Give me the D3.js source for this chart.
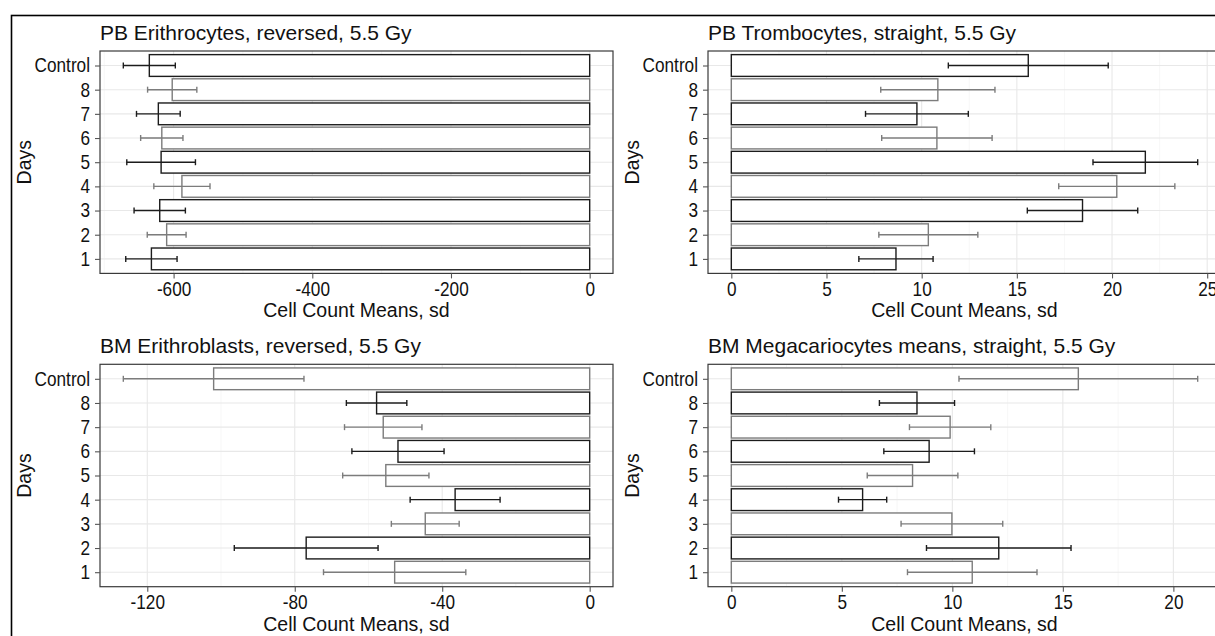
<!DOCTYPE html>
<html lang="en">
<head>
<meta charset="UTF-8">
<title>Cell Count Means</title>
<script src="https://cdn.jsdelivr.net/npm/d3@7"></script>
<style>
  body { margin: 0; background: #fff; }
  text { font-family: "Liberation Sans", Arial, sans-serif; fill: #111; }
</style>
</head>
<body>
<script>
// categories, top to bottom
const days = ["Control", "8", "7", "6", "5", "4", "3", "2", "1"];

// PB Erithrocytes (reversed)
const pbEryMean = [-635, -602, -622, -617, -618, -588, -620, -610, -632];
const pbErySd = [37.5, 35.5, 31.5, 30.5, 49.5, 40.5, 37, 28, 37];
const pbEryTicks = [-600, -400, -200, 0];

// PB Trombocytes (straight)
const pbTromMean = [15.6, 10.85, 9.75, 10.8, 21.75, 20.25, 18.45, 10.35, 8.65];
const pbTromSd = [4.2, 3.0, 2.7, 2.9, 2.75, 3.05, 2.9, 2.6, 1.95];
const pbTromTicks = [0, 5, 10, 15, 20, 25];

// BM Erithroblasts (reversed)
const bmEryMean = [-102, -57.8, -56, -52, -55.3, -36.5, -44.6, -76.9, -52.9];
const bmErySd = [24.5, 8.2, 10.5, 12.5, 11.7, 12.2, 9.2, 19.5, 19.3];
const bmEryTicks = [-120, -80, -40, 0];

// BM Megacariocytes (straight)
const bmMegaMean = [15.7, 8.4, 9.9, 8.95, 8.2, 5.94, 9.98, 12.1, 10.9];
const bmMegaSd = [5.4, 1.7, 1.84, 2.05, 2.05, 1.09, 2.3, 3.27, 2.93];
const bmMegaTicks = [0, 5, 10, 15, 20];

// outline group of each bar
const topTone = ["a", "b", "a", "b", "a", "b", "a", "b", "a"];
const bottomTone = ["b", "a", "b", "a", "b", "a", "b", "a", "b"];
const toneColor = { a: "#1c1c1c", b: "#7c7c7c" };

const W = 1215, H = 636;
const panelW = 513, panelH = 222.4;

const svg = d3.select("body").append("svg")
  .attr("width", W)
  .attr("height", H);

svg.append("rect").attr("width", W).attr("height", H).attr("fill", "#fff");

// outer frame (cut by the picture edge)
svg.append("rect")
  .attr("x", 11.5).attr("y", 15.5)
  .attr("width", 1400).attr("height", 800)
  .attr("fill", "none")
  .attr("stroke", "#000")
  .attr("stroke-width", 1.6);

const panels = [
  { title: "PB Erithrocytes, reversed, 5.5 Gy", mean: pbEryMean, sd: pbErySd, ticks: pbEryTicks, tone: topTone, left: 100, top: 51 },
  { title: "PB Trombocytes, straight, 5.5 Gy", mean: pbTromMean, sd: pbTromSd, ticks: pbTromTicks, tone: topTone, left: 708, top: 51 },
  { title: "BM Erithroblasts, reversed, 5.5 Gy", mean: bmEryMean, sd: bmErySd, ticks: bmEryTicks, tone: bottomTone, left: 100, top: 364.3 },
  { title: "BM Megacariocytes means, straight, 5.5 Gy", mean: bmMegaMean, sd: bmMegaSd, ticks: bmMegaTicks, tone: bottomTone, left: 708, top: 364.3 }
];

const tickScale = 0.86;

panels.forEach(p => {
  const g = svg.append("g").attr("transform", `translate(${p.left},${p.top})`);

  const lo = p.mean.map((m, i) => m - p.sd[i]);
  const hi = p.mean.map((m, i) => m + p.sd[i]);
  let dmin = Math.min(0, d3.min(lo)), dmax = Math.max(0, d3.max(hi));
  const pad = (dmax - dmin) * 0.05;

  const x = d3.scaleLinear().domain([dmin - pad, dmax + pad]).range([0, panelW]);
  const y = d3.scalePoint().domain(days).range([0, panelH]).padding(0.6);
  const bw = y.step() * 0.9;

  // minor breaks
  const step = p.ticks[1] - p.ticks[0];
  const minor = [];
  for (let v = p.ticks[0] - step / 2; v <= p.ticks[p.ticks.length - 1] + step / 2; v += step) {
    if (v >= x.domain()[0] && v <= x.domain()[1]) minor.push(v);
  }

  g.selectAll(".minor").data(minor).join("line")
    .attr("x1", d => x(d)).attr("x2", d => x(d))
    .attr("y1", 0).attr("y2", panelH)
    .attr("stroke", "#f3f3f3").attr("stroke-width", 0.7);

  g.selectAll(".vgrid").data(p.ticks).join("line")
    .attr("x1", d => x(d)).attr("x2", d => x(d))
    .attr("y1", 0).attr("y2", panelH)
    .attr("stroke", "#e8e8e8").attr("stroke-width", 1.1);

  g.selectAll(".hgrid").data(days).join("line")
    .attr("x1", 0).attr("x2", panelW)
    .attr("y1", d => y(d)).attr("y2", d => y(d))
    .attr("stroke", "#e8e8e8").attr("stroke-width", 1.1);

  // bars
  g.selectAll(".bar").data(days).join("rect")
    .attr("x", (d, i) => x(Math.min(0, p.mean[i])))
    .attr("width", (d, i) => Math.abs(x(p.mean[i]) - x(0)))
    .attr("y", d => y(d) - bw / 2)
    .attr("height", bw)
    .attr("fill", "#fff")
    .attr("stroke", (d, i) => toneColor[p.tone[i]])
    .attr("stroke-width", 1.4);

  // error bars
  const eb = g.selectAll(".err").data(days).join("g")
    .attr("stroke", (d, i) => toneColor[p.tone[i]])
    .attr("stroke-width", 1.4);
  eb.append("line")
    .attr("x1", (d, i) => x(lo[i])).attr("x2", (d, i) => x(hi[i]))
    .attr("y1", d => y(d)).attr("y2", d => y(d));
  eb.append("line")
    .attr("x1", (d, i) => x(lo[i])).attr("x2", (d, i) => x(lo[i]))
    .attr("y1", d => y(d) - 3).attr("y2", d => y(d) + 3);
  eb.append("line")
    .attr("x1", (d, i) => x(hi[i])).attr("x2", (d, i) => x(hi[i]))
    .attr("y1", d => y(d) - 3).attr("y2", d => y(d) + 3);

  // panel border
  g.append("rect")
    .attr("width", panelW).attr("height", panelH)
    .attr("fill", "none")
    .attr("stroke", "#3a3a3a").attr("stroke-width", 1.2);

  // axes (plain hyphen for negatives, as in the original)
  const xAxis = g.append("g")
    .attr("transform", `translate(0,${panelH})`)
    .call(d3.axisBottom(x).tickValues(p.ticks).tickFormat(d => String(d)).tickSize(5).tickPadding(3));
  const yAxis = g.append("g")
    .call(d3.axisLeft(y).tickSize(5).tickPadding(5));

  [xAxis, yAxis].forEach(a => {
    a.select(".domain").remove();
    a.selectAll(".tick line").attr("stroke", "#555").attr("stroke-width", 1.1);
    a.selectAll(".tick text")
      .attr("font-size", 20)
      .attr("fill", "#111")
      .attr("transform", `scale(${tickScale},1)`);
  });
  yAxis.selectAll(".tick text").attr("x", -10 / tickScale);

  g.append("text")
    .attr("x", 0).attr("y", -11)
    .attr("font-size", 21)
    .text(p.title);

  g.append("text")
    .attr("x", panelW / 2).attr("y", panelH + 44)
    .attr("text-anchor", "middle")
    .attr("font-size", 19.5)
    .text("Cell Count Means, sd");

  g.append("text")
    .attr("transform", `translate(-69,${panelH / 2}) rotate(-90)`)
    .attr("text-anchor", "middle")
    .attr("font-size", 19.5)
    .text("Days");
});
</script>
</body>
</html>
